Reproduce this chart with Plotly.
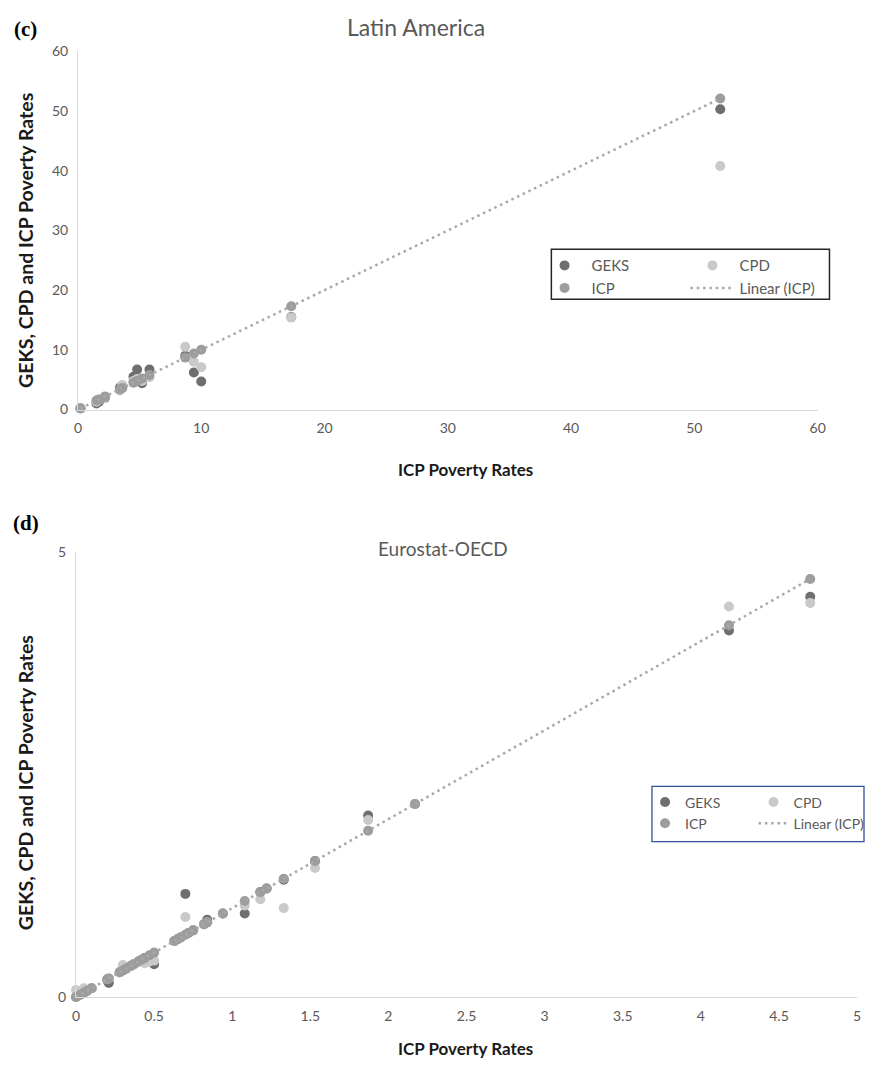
import numpy as np
import plotly.graph_objects as go

W, H = 872, 1072
FONT = "Lato, 'Open Sans', sans-serif"

# ---- Latin America (panel c): poverty rates by country ----
icp_la = [0.2, 1.5, 1.7, 2.2, 3.4, 3.6, 4.5, 4.8, 5.2, 5.8, 8.7, 9.4, 10.0, 17.3, 52.1]
geks_la = [0.2, 1.0, 1.3, 2.0, 3.7, 4.0, 5.5, 6.7, 4.4, 6.7, 9.0, 6.2, 4.7, 15.5, 50.3]
cpd_la = [0.2, 1.3, 1.6, 2.1, 3.2, 4.1, 4.8, 5.1, 4.8, 5.4, 10.5, 8.0, 7.1, 15.4, 40.8]

# ---- Eurostat-OECD (panel d): poverty rates by country ----
icp_eo = [0.00, 0.03, 0.05, 0.07, 0.10, 0.20, 0.21, 0.28, 0.30, 0.32, 0.35, 0.37,
          0.40, 0.42, 0.44, 0.47, 0.50, 0.63, 0.65, 0.67, 0.70, 0.72, 0.75, 0.82,
          0.84, 0.94, 1.08, 1.18, 1.22, 1.33, 1.53, 1.87, 2.17, 4.18, 4.70]
geks_eo = [0.00, 0.03, 0.05, 0.07, 0.10, 0.19, 0.16, 0.28, 0.30, 0.32, 0.35, 0.37,
           0.40, 0.42, 0.44, 0.46, 0.37, 0.63, 0.65, 0.67, 1.16, 0.72, 0.75, 0.82,
           0.87, 0.94, 0.94, 1.18, 1.22, 1.32, 1.53, 2.04, 2.17, 4.12, 4.50]
cpd_eo = [0.08, 0.04, 0.10, 0.07, 0.10, 0.20, 0.21, 0.28, 0.36, 0.32, 0.35, 0.37,
          0.40, 0.42, 0.38, 0.40, 0.41, 0.63, 0.65, 0.67, 0.90, 0.72, 0.75, 0.82,
          0.84, 0.94, 1.03, 1.10, 1.22, 1.00, 1.45, 1.99, 2.17, 4.39, 4.43]

GEKS_C = "#6f6f6f"
CPD_C = "#c9c9c9"
ICP_C = "#9d9d9d"
TREND_C = "#a8a8a8"
TICK_C = "#595959"
AXIS_C = "#d9d9d9"


def fx(px):
    return px / W


def fy(px):
    return 1 - px / H


fig = go.Figure()


def add_panel(xa, ya, icp, geks, cpd, leg_a, leg_b):
    mk = dict(size=10, line=dict(width=0))
    fig.add_trace(go.Scatter(x=icp, y=geks, mode="markers", name="GEKS",
                             marker=dict(color=GEKS_C, **mk), xaxis=xa, yaxis=ya,
                             legend=leg_a, cliponaxis=False))
    fig.add_trace(go.Scatter(x=icp, y=cpd, mode="markers", name="CPD",
                             marker=dict(color=CPD_C, **mk), xaxis=xa, yaxis=ya,
                             legend=leg_b, cliponaxis=False))
    fig.add_trace(go.Scatter(x=icp, y=icp, mode="markers", name="ICP",
                             marker=dict(color=ICP_C, **mk), xaxis=xa, yaxis=ya,
                             legend=leg_a, cliponaxis=False))
    # least-squares trend of the ICP series
    slope, intercept = np.polyfit(icp, icp, 1)
    xs = np.array([min(icp), max(icp)])
    fig.add_trace(go.Scatter(x=xs, y=slope * xs + intercept, mode="lines",
                             name="Linear (ICP)",
                             line=dict(color=TREND_C, width=2.5, dash="2.5px,3.8px"),
                             xaxis=xa, yaxis=ya, legend=leg_b, cliponaxis=False))


add_panel("x", "y", icp_la, geks_la, cpd_la, "legend", "legend2")
add_panel("x2", "y2", icp_eo, geks_eo, cpd_eo, "legend3", "legend4")

axis_common = dict(showline=True, linecolor=AXIS_C, linewidth=1, showgrid=False,
                   zeroline=False, ticks="", tickfont=dict(family=FONT, size=14, color=TICK_C))

fig.update_layout(
    xaxis=dict(domain=[fx(75), fx(825)], range=[0, 60], dtick=10, anchor="y",
               ticklabelstandoff=6, **axis_common),
    yaxis=dict(domain=[fy(407), fy(43)], range=[0, 60], dtick=10, anchor="x",
               ticklabelstandoff=6, **axis_common),
    xaxis2=dict(domain=[fx(73), fx(865)], range=[0, 5], dtick=0.5, anchor="y2",
                ticklabelstandoff=6, **axis_common),
    yaxis2=dict(domain=[fy(1004), fy(552)], range=[0, 5], dtick=5, anchor="x2",
                ticklabelstandoff=6, **axis_common),
)


def legend_cfg(x_px, y_px, size, itemwidth):
    return dict(x=fx(x_px), y=fy(y_px), xanchor="left", yanchor="top",
                bgcolor="rgba(0,0,0,0)", borderwidth=0, itemwidth=itemwidth,
                font=dict(family=FONT, size=size, color=TICK_C), tracegroupgap=0)


fig.update_layout(
    legend=legend_cfg(541, 244, 15, 44),
    legend2=legend_cfg(691, 244, 15, 44),
    legend3=legend_cfg(650, 790, 14, 30),
    legend4=legend_cfg(760, 790, 14, 30),
)

fig.add_shape(type="rect", xref="paper", yref="paper",
              x0=fx(555), x1=fx(837), y0=fy(295), y1=fy(244),
              line=dict(color="#262626", width=1.5))
fig.add_shape(type="rect", xref="paper", yref="paper",
              x0=fx(657), x1=fx(872), y0=fy(846), y1=fy(790),
              line=dict(color="#2f5597", width=1.3))


def note(text, x_px, y_px, size, color, family=FONT, angle=0, bold=False):
    fig.add_annotation(text=f"<b>{text}</b>" if bold else text,
                       x=fx(x_px), y=fy(y_px), xref="paper", yref="paper",
                       xanchor="center", yanchor="middle", showarrow=False,
                       textangle=angle, font=dict(family=family, size=size, color=color))


note("(c)", 22, 20, 21, "#000000", family="'Liberation Serif', serif", bold=True)
note("Latin America", 418, 18, 23, TICK_C)
note("GEKS, CPD and ICP Poverty Rates", 22, 235, 19.5, "#1a1a1a", angle=-90, bold=True)
note("ICP Poverty Rates", 468, 468, 17, "#1a1a1a", bold=True)

note("(d)", 22, 522, 21, "#000000", family="'Liberation Serif', serif", bold=True)
note("Eurostat-OECD", 445, 548, 19, TICK_C)
note("GEKS, CPD and ICP Poverty Rates", 22, 786, 19.5, "#1a1a1a", angle=-90, bold=True)
note("ICP Poverty Rates", 468, 1056, 17, "#1a1a1a", bold=True)

fig.update_layout(width=W, height=H, margin=dict(l=0, r=0, t=0, b=0),
                  paper_bgcolor="white", plot_bgcolor="white", showlegend=True)

fig.write_html("out.html")
